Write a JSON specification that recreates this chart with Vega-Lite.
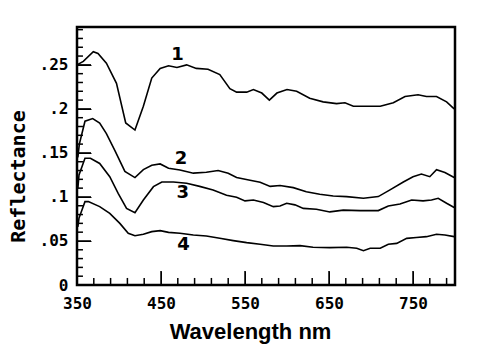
{
  "$schema": "https://vega.github.io/schema/vega-lite/v6.json",
  "width": 378,
  "height": 258,
  "autosize": {"type": "none"},
  "padding": {"left": 77, "top": 27, "right": 29, "bottom": 75},
  "background": "white",
  "config": {
    "view": {"stroke": "black", "strokeWidth": 2.5},
    "axis": {"grid": false, "ticks": true, "zindex": 1, "domainColor": "black", "tickColor": "black", "labelColor": "black", "titleColor": "black", "labelOverlap": false}
  },
  "resolve": {"axis": {"x": "independent", "y": "independent"}},
  "layer": [
    {
      "data": {"values": [
        {"curve":"1","wl":350,"r":0.250},{"curve":"1","wl":357.5,"r":0.254},{"curve":"1","wl":369.4,"r":0.265},{"curve":"1","wl":375,"r":0.263},{"curve":"1","wl":385,"r":0.252},{"curve":"1","wl":397,"r":0.229},{"curve":"1","wl":408,"r":0.184},{"curve":"1","wl":419,"r":0.176},{"curve":"1","wl":429,"r":0.203},{"curve":"1","wl":439,"r":0.235},{"curve":"1","wl":449,"r":0.246},{"curve":"1","wl":459,"r":0.249},{"curve":"1","wl":469,"r":0.247},{"curve":"1","wl":480.5,"r":0.250},{"curve":"1","wl":492,"r":0.246},{"curve":"1","wl":506,"r":0.245},{"curve":"1","wl":520,"r":0.239},{"curve":"1","wl":532,"r":0.223},{"curve":"1","wl":540,"r":0.219},{"curve":"1","wl":552,"r":0.219},{"curve":"1","wl":560,"r":0.222},{"curve":"1","wl":570,"r":0.218},{"curve":"1","wl":579,"r":0.210},{"curve":"1","wl":588,"r":0.218},{"curve":"1","wl":600,"r":0.222},{"curve":"1","wl":611.5,"r":0.220},{"curve":"1","wl":627,"r":0.212},{"curve":"1","wl":643,"r":0.208},{"curve":"1","wl":659,"r":0.206},{"curve":"1","wl":669,"r":0.207},{"curve":"1","wl":679,"r":0.203},{"curve":"1","wl":695,"r":0.203},{"curve":"1","wl":711,"r":0.203},{"curve":"1","wl":726.6,"r":0.207},{"curve":"1","wl":740.5,"r":0.214},{"curve":"1","wl":756,"r":0.216},{"curve":"1","wl":766,"r":0.214},{"curve":"1","wl":778,"r":0.214},{"curve":"1","wl":790,"r":0.208},{"curve":"1","wl":799,"r":0.200},
        {"curve":"2","wl":351,"r":0.145},{"curve":"2","wl":352.8,"r":0.160},{"curve":"2","wl":359.5,"r":0.186},{"curve":"2","wl":368.7,"r":0.189},{"curve":"2","wl":377,"r":0.184},{"curve":"2","wl":385,"r":0.172},{"curve":"2","wl":395,"r":0.153},{"curve":"2","wl":407,"r":0.129},{"curve":"2","wl":419,"r":0.122},{"curve":"2","wl":429,"r":0.131},{"curve":"2","wl":439,"r":0.136},{"curve":"2","wl":449,"r":0.1375},{"curve":"2","wl":459,"r":0.1326},{"curve":"2","wl":472.6,"r":0.1307},{"curve":"2","wl":488.5,"r":0.127},{"curve":"2","wl":504,"r":0.128},{"curve":"2","wl":518,"r":0.130},{"curve":"2","wl":530,"r":0.127},{"curve":"2","wl":540,"r":0.122},{"curve":"2","wl":556,"r":0.119},{"curve":"2","wl":568,"r":0.1167},{"curve":"2","wl":580,"r":0.112},{"curve":"2","wl":591.7,"r":0.113},{"curve":"2","wl":607.5,"r":0.1106},{"curve":"2","wl":623,"r":0.106},{"curve":"2","wl":639,"r":0.103},{"curve":"2","wl":655,"r":0.101},{"curve":"2","wl":671,"r":0.1004},{"curve":"2","wl":691,"r":0.0985},{"curve":"2","wl":708.7,"r":0.1004},{"curve":"2","wl":722.6,"r":0.108},{"curve":"2","wl":738.5,"r":0.117},{"curve":"2","wl":750,"r":0.123},{"curve":"2","wl":760,"r":0.126},{"curve":"2","wl":770,"r":0.123},{"curve":"2","wl":778,"r":0.131},{"curve":"2","wl":788,"r":0.1277},{"curve":"2","wl":799,"r":0.122},
        {"curve":"3","wl":351,"r":0.110},{"curve":"3","wl":352.4,"r":0.125},{"curve":"3","wl":359.5,"r":0.144},{"curve":"3","wl":366,"r":0.144},{"curve":"3","wl":377,"r":0.138},{"curve":"3","wl":389,"r":0.123},{"curve":"3","wl":399,"r":0.104},{"curve":"3","wl":409,"r":0.087},{"curve":"3","wl":419,"r":0.082},{"curve":"3","wl":429,"r":0.0966},{"curve":"3","wl":441,"r":0.1117},{"curve":"3","wl":451,"r":0.117},{"curve":"3","wl":464.7,"r":0.117},{"curve":"3","wl":480.5,"r":0.1155},{"curve":"3","wl":496,"r":0.112},{"curve":"3","wl":512,"r":0.108},{"curve":"3","wl":528,"r":0.102},{"curve":"3","wl":540,"r":0.0996},{"curve":"3","wl":550,"r":0.0955},{"curve":"3","wl":560,"r":0.0966},{"curve":"3","wl":572,"r":0.0936},{"curve":"3","wl":583.7,"r":0.089},{"curve":"3","wl":591.7,"r":0.0898},{"curve":"3","wl":599.6,"r":0.0928},{"curve":"3","wl":609.5,"r":0.091},{"curve":"3","wl":619.4,"r":0.087},{"curve":"3","wl":635,"r":0.086},{"curve":"3","wl":651,"r":0.083},{"curve":"3","wl":667,"r":0.085},{"curve":"3","wl":687,"r":0.0845},{"curve":"3","wl":708.7,"r":0.0845},{"curve":"3","wl":720.6,"r":0.0898},{"curve":"3","wl":734.5,"r":0.092},{"curve":"3","wl":748.4,"r":0.0966},{"curve":"3","wl":762,"r":0.0955},{"curve":"3","wl":772,"r":0.0966},{"curve":"3","wl":780,"r":0.0985},{"curve":"3","wl":790,"r":0.0928},{"curve":"3","wl":799,"r":0.088},
        {"curve":"4","wl":351,"r":0.066},{"curve":"4","wl":352.4,"r":0.076},{"curve":"4","wl":359.5,"r":0.0947},{"curve":"4","wl":363.5,"r":0.0947},{"curve":"4","wl":377,"r":0.089},{"curve":"4","wl":389,"r":0.0814},{"curve":"4","wl":401,"r":0.070},{"curve":"4","wl":411,"r":0.0587},{"curve":"4","wl":419,"r":0.056},{"curve":"4","wl":429,"r":0.0576},{"curve":"4","wl":439,"r":0.0606},{"curve":"4","wl":449,"r":0.0617},{"curve":"4","wl":459,"r":0.0598},{"curve":"4","wl":472.6,"r":0.0587},{"curve":"4","wl":488.5,"r":0.0568},{"curve":"4","wl":504,"r":0.0557},{"curve":"4","wl":520,"r":0.053},{"curve":"4","wl":536,"r":0.0504},{"curve":"4","wl":552,"r":0.0481},{"curve":"4","wl":568,"r":0.0462},{"curve":"4","wl":583.7,"r":0.0443},{"curve":"4","wl":599.6,"r":0.0443},{"curve":"4","wl":615.5,"r":0.0447},{"curve":"4","wl":631,"r":0.0428},{"curve":"4","wl":651,"r":0.0424},{"curve":"4","wl":671,"r":0.0428},{"curve":"4","wl":683,"r":0.0417},{"curve":"4","wl":691,"r":0.039},{"curve":"4","wl":699,"r":0.0417},{"curve":"4","wl":711,"r":0.0417},{"curve":"4","wl":720.6,"r":0.0462},{"curve":"4","wl":730.6,"r":0.0473},{"curve":"4","wl":742.5,"r":0.053},{"curve":"4","wl":754,"r":0.054},{"curve":"4","wl":766,"r":0.0549},{"curve":"4","wl":778,"r":0.0576},{"curve":"4","wl":788,"r":0.0568},{"curve":"4","wl":799,"r":0.0549}
      ]},
      "mark": {"type": "line", "color": "black", "strokeWidth": 1.6, "clip": true},
      "encoding": {
        "x": {
          "field": "wl", "type": "quantitative",
          "scale": {"domain": [350, 800], "nice": false, "zero": false},
          "axis": {
            "orient": "bottom", "offset": -14, "domain": false, "ticks": true, "zindex": 1,
            "title": "Wavelength nm",
            "titleFont": "Liberation Sans", "titleFontSize": 22, "titleFontWeight": "bold",
            "titleAlign": "center", "titleBaseline": "alphabetic", "titleX": 173, "titleY": 67,
            "values": [350, 450, 550, 650, 750],
            "labelFont": "DejaVu Sans Mono", "labelFontSize": 16, "labelFontWeight": "bold",
            "labelPadding": 10, "labelFlush": false,
            "tickSize": 14, "tickColor": "black"
          }
        },
        "y": {
          "field": "r", "type": "quantitative",
          "scale": {"domain": [0, 0.293], "nice": false, "zero": true},
          "axis": {
            "orient": "left", "offset": -14, "domain": false, "ticks": true, "zindex": 1,
            "title": "Reflectance",
            "titleFont": "DejaVu Sans Mono", "titleFontSize": 20, "titleFontWeight": "bold",
            "titleAngle": -90, "titleAlign": "center", "titleBaseline": "alphabetic", "titleX": -67, "titleY": 149,
            "values": [0, 0.05, 0.1, 0.15, 0.2, 0.25],
            "labelExpr": "datum.value == 0 ? '0' : replace(format(datum.value, '.2~f'), '0.', '.')",
            "labelFont": "DejaVu Sans Mono", "labelFontSize": 16, "labelFontWeight": "bold",
            "labelPadding": 9, "labelFlush": false,
            "tickSize": 14, "tickColor": "black"
          }
        },
        "detail": {"field": "curve", "type": "nominal"}
      }
    },
    {
      "data": {"values": [
        {"label": "1", "wl": 469.6, "r": 0.2614},
        {"label": "2", "wl": 473.8, "r": 0.1426},
        {"label": "3", "wl": 476, "r": 0.1045},
        {"label": "4", "wl": 476.8, "r": 0.0455}
      ]},
      "mark": {"type": "text", "font": "DejaVu Sans", "fontSize": 18, "fontWeight": "bold", "color": "black", "align": "center", "baseline": "middle"},
      "encoding": {
        "x": {"field": "wl", "type": "quantitative", "axis": null},
        "y": {"field": "r", "type": "quantitative", "axis": null},
        "text": {"field": "label", "type": "nominal"}
      }
    },
    {
      "data": {"values": [{"wl": 450}, {"wl": 550}, {"wl": 650}, {"wl": 750}]},
      "mark": {"type": "rule", "color": "black", "strokeWidth": 1.5},
      "encoding": {
        "x": {"field": "wl", "type": "quantitative", "axis": null},
        "y": {"datum": 0, "type": "quantitative", "axis": null},
        "y2": {"datum": 0.016}
      }
    },
    {
      "data": {"values": [{"wl": 370}, {"wl": 390}, {"wl": 410}, {"wl": 430}, {"wl": 470}, {"wl": 490}, {"wl": 510}, {"wl": 530}, {"wl": 570}, {"wl": 590}, {"wl": 610}, {"wl": 630}, {"wl": 670}, {"wl": 690}, {"wl": 710}, {"wl": 730}, {"wl": 770}, {"wl": 790}]},
      "mark": {"type": "rule", "color": "black", "strokeWidth": 1.5},
      "encoding": {
        "x": {"field": "wl", "type": "quantitative", "axis": null},
        "y": {"datum": 0, "type": "quantitative", "axis": null},
        "y2": {"datum": 0.008}
      }
    },
    {
      "data": {"values": [{"r": 0.05}, {"r": 0.1}, {"r": 0.15}, {"r": 0.2}, {"r": 0.25}]},
      "mark": {"type": "rule", "color": "black", "strokeWidth": 1.5},
      "encoding": {
        "y": {"field": "r", "type": "quantitative", "axis": null},
        "x": {"datum": 350, "type": "quantitative", "axis": null},
        "x2": {"datum": 366.7}
      }
    },
    {
      "data": {"values": [{"r": 0.01}, {"r": 0.02}, {"r": 0.03}, {"r": 0.04}, {"r": 0.06}, {"r": 0.07}, {"r": 0.08}, {"r": 0.09}, {"r": 0.11}, {"r": 0.12}, {"r": 0.13}, {"r": 0.14}, {"r": 0.16}, {"r": 0.17}, {"r": 0.18}, {"r": 0.19}, {"r": 0.21}, {"r": 0.22}, {"r": 0.23}, {"r": 0.24}, {"r": 0.26}, {"r": 0.27}, {"r": 0.28}, {"r": 0.29}]},
      "mark": {"type": "rule", "color": "black", "strokeWidth": 1.5},
      "encoding": {
        "y": {"field": "r", "type": "quantitative", "axis": null},
        "x": {"datum": 350, "type": "quantitative", "axis": null},
        "x2": {"datum": 357.1}
      }
    }
  ]
}
